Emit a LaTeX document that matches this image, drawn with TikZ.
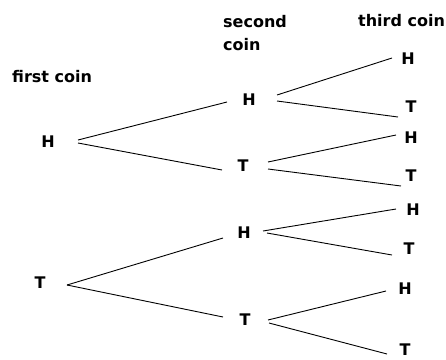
\documentclass[tikz,border=0pt]{standalone}
\usepackage{fontspec}
\setmainfont{DejaVu Sans}
\begin{document}
\begin{tikzpicture}[x=1pt,y=-1pt,
  lbl/.style={inner sep=0pt,font=\fontsize{16}{23}\selectfont\bfseries},
  head/.style={lbl,anchor=base west,align=left},
  branch/.style={line width=0.9pt}]
\useasboundingbox (0,0) rectangle (446,359);

% column headings (base anchor sits on the last line)
\node[head] (h1) at (12,82) {first coin};
\node[head] (h2) at (223,50) {second\\coin};
\node[head] (h3) at (358,26) {third coin};

% first coin
\node[lbl] (A) at (48,142) {H};
\node[lbl] (B) at (40,283) {T};
% second coin
\node[lbl] (C) at (249,100) {H};
\node[lbl] (D) at (243,166) {T};
\node[lbl] (E) at (244,233) {H};
\node[lbl] (F) at (245,320) {T};
% third coin
\node[lbl] (G) at (408,59) {H};
\node[lbl] (I) at (411,107) {T};
\node[lbl] (J) at (411,138) {H};
\node[lbl] (K) at (411,176) {T};
\node[lbl] (L) at (413,210) {H};
\node[lbl] (M) at (409,249) {T};
\node[lbl] (N) at (405,289) {H};
\node[lbl] (O) at (405,349.5) {T};

% branches
\draw[branch] ([shift={(30,-2)}]A.center) -- ([shift={(-22,2)}]C.center);
\draw[branch] ([shift={(30,1)}]A.center) -- ([shift={(-21,4)}]D.center);
\draw[branch] ([shift={(27,2)}]B.center) -- ([shift={(-21,5)}]E.center);
\draw[branch] ([shift={(27,2)}]B.center) -- ([shift={(-22,-3)}]F.center);

\draw[branch] ([shift={(28,-5)}]C.center) -- ([shift={(-16,-1)}]G.center);
\draw[branch] ([shift={(28,1)}]C.center) -- ([shift={(-13,10)}]I.center);
\draw[branch] ([shift={(25,-4)}]D.center) -- ([shift={(-15,-3)}]J.center);
\draw[branch] ([shift={(25,3)}]D.center) -- ([shift={(-10,10)}]K.center);
\draw[branch] ([shift={(19,-2)}]E.center) -- ([shift={(-17,-1)}]L.center);
\draw[branch] ([shift={(23,0)}]E.center) -- ([shift={(-17,6)}]M.center);
\draw[branch] ([shift={(23,0)}]F.center) -- ([shift={(-19,2)}]N.center);
\draw[branch] ([shift={(24,3)}]F.center) -- ([shift={(-18,4.5)}]O.center);
\end{tikzpicture}
\end{document}
